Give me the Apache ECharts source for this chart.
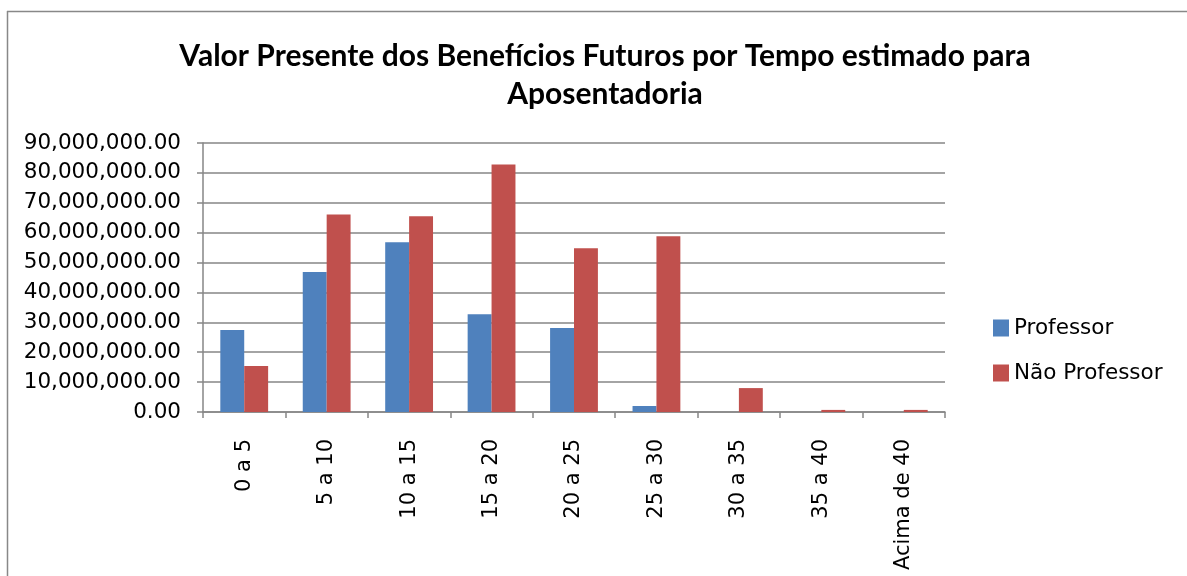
<!DOCTYPE html>
<html>
<head>
<meta charset="utf-8">
<script src="https://cdn.jsdelivr.net/npm/echarts@6/dist/echarts.min.js"></script>
<style>html,body{margin:0;padding:0;background:#fff}#c{width:1187px;height:576px}</style>
</head>
<body>
<div id="c"></div>
<script>
const categories = ['0 a 5','5 a 10','10 a 15','15 a 20','20 a 25','25 a 30','30 a 35','35 a 40','Acima de 40'];
const professor = [27400000, 46800000, 56800000, 32700000, 28100000, 2000000, 0, 0, 0];
const naoProfessor = [15400000, 66100000, 65500000, 82800000, 54800000, 58800000, 8000000, 700000, 700000];
const seriesNames = ['Professor', 'Não Professor'];
const titleText = 'Valor Presente dos Benefícios Futuros por Tempo estimado para\nAposentadoria';

const chart = echarts.init(document.getElementById('c'), null, {renderer:'canvas'});
const fmt = v => Number(v).toLocaleString('en-US', {minimumFractionDigits:2, maximumFractionDigits:2});
chart.setOption({
  backgroundColor:'#fff',
  animation:false,
  title:{
    text:titleText, left:600, top:32, textAlign:'center',
    textStyle:{fontFamily:'Lato', fontWeight:'bold', fontSize:30, lineHeight:38, color:'#000'}
  },
  graphic:[
    {type:'line', shape:{x1:7,y1:11.5,x2:1187,y2:11.5}, style:{stroke:'#888',lineWidth:1.5}},
    {type:'line', shape:{x1:7.5,y1:11,x2:7.5,y2:576}, style:{stroke:'#888',lineWidth:1.5}}
  ],
  legend:{
    orient:'vertical', left:988, top:312, itemWidth:16, itemHeight:17, itemGap:23,
    icon:'rect',
    textStyle:{fontFamily:'DejaVu Sans', fontSize:21.5, color:'#000', padding:[0,0,0,0]},
    data:seriesNames
  },
  grid:{left:203, right:242, top:143, bottom:164, containLabel:false},
  xAxis:{
    type:'category', data:categories,
    axisLine:{lineStyle:{color:'#868686', width:1.5}},
    axisTick:{show:true, length:6, lineStyle:{color:'#868686', width:1.5}},
    axisLabel:{rotate:90, margin:27, fontFamily:'DejaVu Sans', fontSize:21, color:'#000', interval:0}
  },
  yAxis:{
    type:'value', min:0, max:90000000, interval:10000000,
    axisLine:{show:true, lineStyle:{color:'#868686', width:1.5}},
    axisTick:{show:true, length:6, lineStyle:{color:'#868686', width:1.5}},
    splitLine:{lineStyle:{color:'#868686', width:1.5}},
    axisLabel:{formatter:fmt, margin:22, fontFamily:'DejaVu Sans', fontSize:21.5, color:'#000'}
  },
  series:[
    {name:seriesNames[0], type:'bar', data:professor, itemStyle:{color:'#4F81BD'}, barGap:'0%', barCategoryGap:'42%'},
    {name:seriesNames[1], type:'bar', data:naoProfessor, itemStyle:{color:'#C0504D'}, barGap:'0%', barCategoryGap:'42%'}
  ]
});
</script>
</body>
</html>
